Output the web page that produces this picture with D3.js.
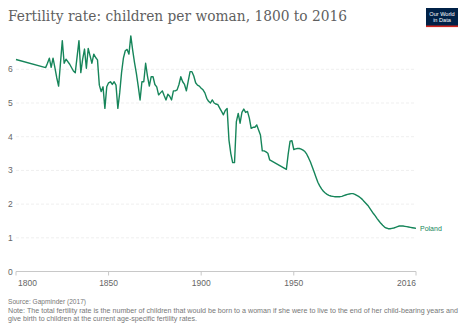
<!DOCTYPE html>
<html><head><meta charset="utf-8">
<script src="https://cdn.jsdelivr.net/npm/d3@7/dist/d3.min.js"></script>
<style>body{margin:0;background:#fff}svg{display:block}</style>
</head><body>
<svg id="c" width="467" height="330"></svg>
<script>
const title = "Fertility rate: children per woman, 1800 to 2016";
const seriesName = "Poland";
const years = [1800,1816,1817,1818,1819,1820,1821,1822,1823,1825,1826,1827,1829,1831,1832,1834,1835,1836,1837,1838,1839,1840,1841,1842,1843,1844,1845,1846,1847,1848,1849,1850,1851,1852,1853,1854,1855,1856,1857,1858,1859,1860,1861,1862,1863,1864,1865,1866,1867,1868,1869,1870,1871,1872,1873,1874,1875,1876,1877,1878,1879,1880,1881,1882,1883,1884,1885,1886,1887,1888,1889,1890,1891,1892,1893,1894,1895,1896,1897,1898,1899,1900,1901,1902,1903,1904,1905,1906,1907,1908,1909,1910,1911,1912,1913,1914,1915,1916,1917,1918,1919,1920,1921,1922,1923,1924,1925,1926,1927,1928,1929,1930,1931,1932,1933,1934,1935,1936,1937,1946,1947,1948,1949,1950,1951,1952,1953,1954,1955,1956,1957,1958,1959,1960,1961,1962,1963,1964,1965,1966,1967,1968,1969,1970,1971,1972,1973,1974,1975,1976,1977,1978,1979,1980,1981,1982,1983,1984,1985,1986,1987,1988,1989,1990,1991,1992,1993,1994,1995,1996,1997,1998,1999,2000,2001,2002,2003,2004,2005,2006,2007,2008,2009,2010,2011,2012,2013,2014,2015,2016];
const values = [6.29,6.05,6.18,6.33,6.06,6.33,6.05,5.75,5.5,6.85,6.18,6.3,6.15,5.95,5.9,6.85,5.9,6.3,6.6,6.03,6.62,6.4,6.18,6.45,6.35,6.28,5.53,5.34,5.48,4.84,5.48,5.6,5.63,5.55,5.63,5.53,4.84,5.3,5.9,6.33,6.55,6.59,6.45,6.99,6.57,6.2,5.88,5.5,5.09,5.63,5.63,6.18,5.8,5.5,5.78,5.78,5.55,5.48,5.24,5.3,5.36,5.22,5.09,5.26,5.2,5.09,5.36,5.36,5.39,5.55,5.78,5.63,5.55,5.36,5.65,5.93,5.93,5.8,5.6,5.53,5.5,5.44,5.39,5.3,5.14,5.05,5.0,5.09,5.0,4.97,4.95,4.85,4.75,4.65,4.78,4.84,3.9,3.5,3.23,3.23,4.45,4.69,4.4,4.72,4.82,4.72,4.75,4.55,4.25,4.28,4.28,4.35,4.2,4.05,3.58,3.58,3.55,3.51,3.31,3.03,3.49,3.87,3.88,3.62,3.64,3.65,3.65,3.63,3.6,3.56,3.48,3.37,3.25,3.1,2.95,2.8,2.65,2.54,2.45,2.38,2.33,2.29,2.26,2.24,2.23,2.22,2.22,2.22,2.22,2.23,2.25,2.27,2.29,2.3,2.31,2.31,2.29,2.26,2.23,2.19,2.14,2.08,2.02,1.96,1.88,1.8,1.72,1.65,1.57,1.5,1.43,1.37,1.32,1.29,1.27,1.27,1.28,1.29,1.31,1.33,1.35,1.35,1.35,1.34,1.33,1.32,1.31,1.3,1.29,1.28];
const xTicks = [1800,1850,1900,1950,2016];
const yTicks = [0,1,2,3,4,5,6];
const sourceText = "Source: Gapminder (2017)";
const noteLines = ["Note: The total fertility rate is the number of children that would be born to a woman if she were to live to the end of her child-bearing years and",
                   "give birth to children at the current age-specific fertility rates."];

const svg = d3.select("#c");
const color = "#16855a";
const x = d3.scaleLinear().domain([1800,2016]).range([16,416]);
const y = d3.scaleLinear().domain([0,7]).range([271.5,35.6]);
const font = "Liberation Sans, Arial, sans-serif";

// title
svg.append("text").attr("x",8).attr("y",21).text(title)
  .attr("font-family","DejaVu Serif, serif").attr("font-size",14).attr("fill","#5f5f5f")
  .attr("textLength",339).attr("lengthAdjust","spacingAndGlyphs");

// logo
const logo = svg.append("g").attr("transform","translate(426,8)");
logo.append("rect").attr("width",32).attr("height",19).attr("fill","#002147");
logo.append("rect").attr("y",17.5).attr("width",32).attr("height",1.6).attr("fill","#ce261e");
logo.append("text").attr("x",16).attr("y",7.5).attr("text-anchor","middle").text("Our World")
  .attr("font-family",font).attr("font-size",5.6).attr("fill","#fff");
logo.append("text").attr("x",16).attr("y",14).attr("text-anchor","middle").text("in Data")
  .attr("font-family",font).attr("font-size",5.6).attr("fill","#fff");

// grid
svg.append("g").selectAll("line").data(yTicks.filter(d=>d>0)).join("line")
  .attr("x1",16).attr("x2",416).attr("y1",d=>y(d)).attr("y2",d=>y(d))
  .attr("stroke","#efefef").attr("stroke-width",1).attr("stroke-dasharray","3,2");
svg.append("line").attr("x1",16).attr("x2",416).attr("y1",y(0)).attr("y2",y(0))
  .attr("stroke","#c8c8c8").attr("stroke-width",1);
svg.append("g").selectAll("line").data(xTicks).join("line")
  .attr("x1",d=>x(d)).attr("x2",d=>x(d)).attr("y1",y(0)).attr("y2",y(0)+4)
  .attr("stroke","#c8c8c8");

// y labels
svg.append("g").selectAll("text").data(yTicks).join("text")
  .attr("x",8).attr("y",d=>y(d)+3).text(d=>d)
  .attr("font-family",font).attr("font-size",8.5).attr("fill","#666");
// x labels
svg.append("g").selectAll("text").data(xTicks).join("text")
  .attr("x",d=>x(d)).attr("y",285.5).text(d=>d)
  .attr("text-anchor",(d,i)=> i===0?"start":(i===xTicks.length-1?"end":"middle"))
  .attr("dx",(d,i)=> i===0?2:0)
  .attr("font-family",font).attr("font-size",8.5).attr("fill","#666");

// line
const data = years.map((yr,i)=>({year:yr,value:values[i]}));
svg.append("path").datum(data)
  .attr("d",d3.line().x(d=>x(d.year)).y(d=>y(d.value)))
  .attr("fill","none").attr("stroke",color).attr("stroke-width",1.4).attr("stroke-linejoin","round");
const last = data[data.length-1];
svg.append("text").attr("x",x(last.year)+4).attr("y",y(last.value)+2.5).text(seriesName)
  .attr("font-family",font).attr("font-size",7).attr("fill",color);

// source & note
svg.append("text").attr("x",8).attr("y",304).text(sourceText)
  .attr("font-family",font).attr("font-size",6.6).attr("fill","#777");
svg.append("text").attr("x",8).attr("y",313).text(noteLines[0])
  .attr("font-family",font).attr("font-size",6.6).attr("fill","#777")
  .attr("textLength",450).attr("lengthAdjust","spacingAndGlyphs");
svg.append("text").attr("x",8).attr("y",321).text(noteLines[1])
  .attr("font-family",font).attr("font-size",6.6).attr("fill","#777")
  .attr("textLength",189).attr("lengthAdjust","spacingAndGlyphs");
</script>
</body></html>
